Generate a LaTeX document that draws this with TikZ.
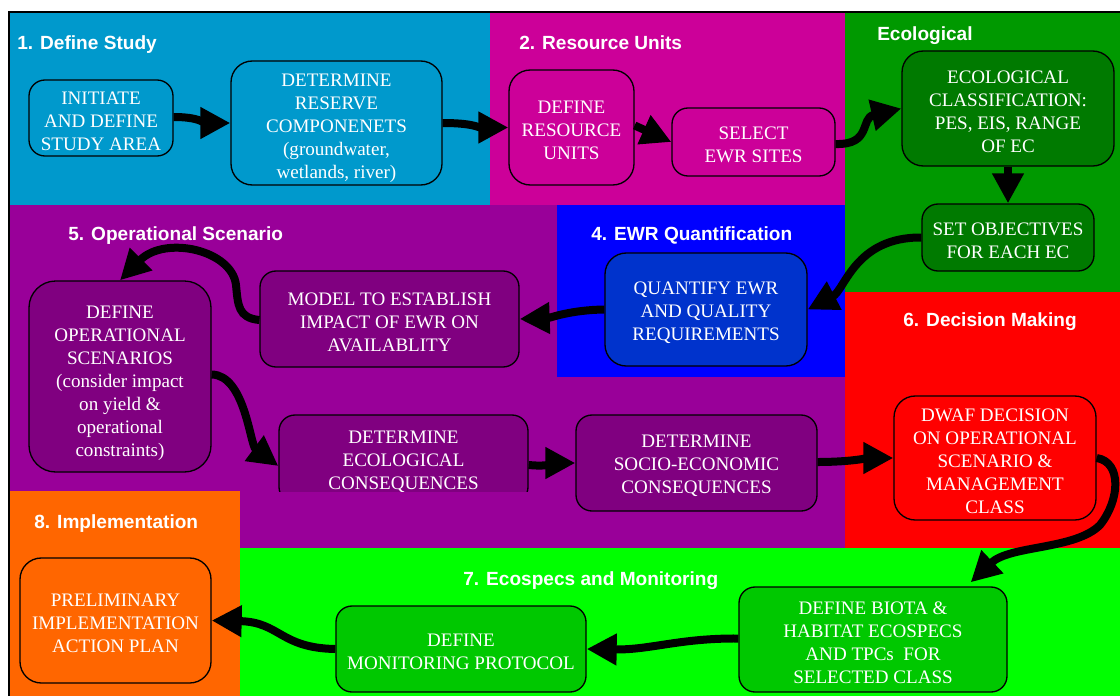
\documentclass[tikz,border=0pt]{standalone}
\usepackage{fontspec}
\setmainfont{Liberation Serif}
\newfontfamily\headfont{Liberation Sans}
\usetikzlibrary{arrows.meta,calc}

% zone colours
\definecolor{zcyan}{HTML}{0099CC}
\definecolor{zmag}{HTML}{CC0099}
\definecolor{zgreen}{HTML}{009900}
\definecolor{zpurple}{HTML}{990099}
\definecolor{zblue}{HTML}{0000FF}
\definecolor{zred}{HTML}{FF0000}
\definecolor{zorange}{HTML}{FF6600}
\definecolor{zlime}{HTML}{00FF00}
% box fills
\definecolor{bgreen}{HTML}{007A00}
\definecolor{bblue}{HTML}{0033CC}
\definecolor{bpurple}{HTML}{800080}
\definecolor{blime}{HTML}{00C800}

% invisible strut that gives the first text line extra headroom
\newcommand\tstr[1][14pt]{\rule{0pt}{#1}}

\begin{document}
\begin{tikzpicture}[x=0.75pt,y=-0.75pt,
  box/.style={draw=black, line width=1pt, rounded corners=12pt, text=white,
    align=center, inner sep=0pt, font=\fontsize{14.3pt}{17.25pt}\selectfont},
  sz/.style 2 args={minimum width=#1*0.75pt, minimum height=#2*0.75pt},
  ttl/.style={text=white, font=\headfont\bfseries\fontsize{14.3pt}{17pt}\selectfont,
    anchor=base west, inner sep=0pt},
  flow/.style={draw=black, line width=6pt, -{Triangle[length=22.5pt,width=22.5pt]}},
]
\useasboundingbox (0,0) rectangle (1120,696);

% ---- stage zones ----
\fill[zpurple] (9,205) rectangle (845,548);
\fill[zcyan]   (9,12) rectangle (490,205);
\fill[zmag]    (490,12) rectangle (845,205);
\fill[zgreen]  (845,12) rectangle (1120,292);
\fill[zblue]   (557,205) rectangle (845,377);
\fill[zred]    (845,292) rectangle (1120,548);
\fill[zorange] (9,491) rectangle (240,696);
\fill[zlime]   (240,548) rectangle (1120,696);
\draw[line width=1.5pt] (8,11.5) -- (1120,11.5);
\draw[line width=1.5pt] (8.5,11) -- (8.5,696);

% ---- stage titles ----
\node[ttl] (t1) at (17,49)  {1. Define Study};
\node[ttl] (t2) at (519,49) {2. Resource Units};
\node[ttl] (t3) at (877,40) {Ecological};
\node[ttl] (t5) at (68,240) {5. Operational Scenario};
\node[ttl] (t4) at (591,240) {4. EWR Quantification};
\node[ttl] (t6) at (903,326) {6. Decision Making};
\node[ttl] (t8) at (34,528) {8. Implementation};
\node[ttl] (t7) at (463,585) {7. Ecospecs and Monitoring};

% ---- process boxes ----
\node[box, fill=zcyan, sz={144}{76}] (n1) at (101,118)
  {\tstr INITIATE\\AND DEFINE\\STUDY AREA};
\node[box, fill=zcyan, sz={211}{124}, rounded corners=16pt] (n2) at (336.5,123)
  {\tstr[17pt]DETERMINE\\RESERVE\\COMPONENETS\\(groundwater,\\wetlands, river)};
\node[box, fill=zmag, sz={125}{115}, rounded corners=16pt] (n3) at (571.5,127.5)
  {\tstr DEFINE\\RESOURCE\\UNITS};
\node[box, fill=zmag, sz={163}{68}] (n4) at (753.5,142)
  {\tstr SELECT\\EWR SITES};
\node[box, fill=bgreen, sz={212}{115}, rounded corners=16pt] (n5) at (1008,108.5)
  {\tstr ECOLOGICAL\\CLASSIFICATION:\\PES, EIS, RANGE\\OF EC};
\node[box, fill=bgreen, sz={172}{67}] (n6) at (1008,237.5)
  {\tstr SET OBJECTIVES\\FOR EACH EC};
\node[box, fill=bblue, sz={202}{113}, rounded corners=16pt] (n7) at (706,309.5)
  {\tstr QUANTIFY EWR\\AND QUALITY\\REQUIREMENTS};
\node[box, fill=bpurple, sz={259}{96}] (n8) at (389.5,319)
  {\tstr MODEL TO ESTABLISH\\IMPACT OF EWR ON\\AVAILABLITY};
\node[box, fill=bpurple, sz={182}{191}, rounded corners=20pt] (n9) at (120,376.5)
  {\tstr[19pt]DEFINE\\OPERATIONAL\\SCENARIOS\\(consider impact\\on yield \&\\operational\\constraints)};
\begin{scope}
  \clip (0,0) rectangle (1120,491);
  \node[box, fill=bpurple, sz={249}{88}] (n10) at (403.5,459)
    {\tstr DETERMINE\\ECOLOGICAL\\CONSEQUENCES};
\end{scope}
\node[box, fill=bpurple, sz={241}{96}] (n11) at (696.5,463)
  {\tstr DETERMINE\\SOCIO-ECONOMIC\\CONSEQUENCES};
\node[box, fill=zred, sz={202}{124}, rounded corners=16pt] (n12) at (995,458)
  {\tstr DWAF DECISION\\ON OPERATIONAL\\SCENARIO \&\\MANAGEMENT\\CLASS};
\node[box, fill=blime, sz={268}{105}] (n13) at (873,639.5)
  {\tstr DEFINE BIOTA \&\\HABITAT ECOSPECS\\AND TPCs\ \ FOR\\SELECTED CLASS};
\node[box, fill=blime, sz={250}{86}] (n14) at (461,649)
  {\tstr DEFINE\\MONITORING PROTOCOL};
\node[box, fill=zorange, sz={191}{125}, rounded corners=16pt] (n15) at (115.5,620.5)
  {\tstr PRELIMINARY\\IMPLEMENTATION\\ACTION PLAN};

% ---- flow connectors ----
\draw[flow] ($(n1.east)+(0,-1)$) .. controls ($(n1.east)+(25,-1)$) and ($(n2.west)+(-25,0)$) .. (n2.west);
\draw[flow] (n2.east) .. controls ($(n2.east)+(30,0)$) and ($(n3.west)+(-30,0)$) .. (n3.west);
\draw[flow] ($(n3.east)+(0,-2)$) -- (n4.west);
\draw[flow] ($(n4.east)+(0,2)$) .. controls (872,145) and (860,118) .. (n5.west);
\draw[flow] (n5.south) -- (n6.north);
\draw[flow] (n6.west) .. controls (855,237) and (845,290) .. (n7.east);
\draw[flow] (n7.west) .. controls (570,310) and (550,318) .. (n8.east);
\draw[flow] ($(n8.west)+(0,1)$) .. controls (238,318) and (238,305) .. (236,285)
  .. controls (232,250) and (165,235) .. (n9.north);
\draw[flow] ($(n9.east)+(0,-2)$) .. controls (245,375) and (250,445) .. ($(n10.west)+(0,7)$);
\draw[flow] ($(n10.east)+(0,6)$) .. controls (550,467) and (555,463) .. (n11.west);
\draw[flow] ($(n11.east)+(0,-1)$) .. controls (850,462) and (870,458) .. (n12.west);
\draw[flow] (n12.east) .. controls (1122,462) and (1120,500) .. (1100,525)
  .. controls (1075,550) and (1010,545) .. ($(n13.north east)+(-37,-4)$);
\draw[flow] ($(n13.west)+(0,-1)$) .. controls (680,638) and (650,650) .. (n14.east);
\draw[flow] (n14.west) .. controls (280,648) and (280,622) .. (n15.east);
\end{tikzpicture}
\end{document}
